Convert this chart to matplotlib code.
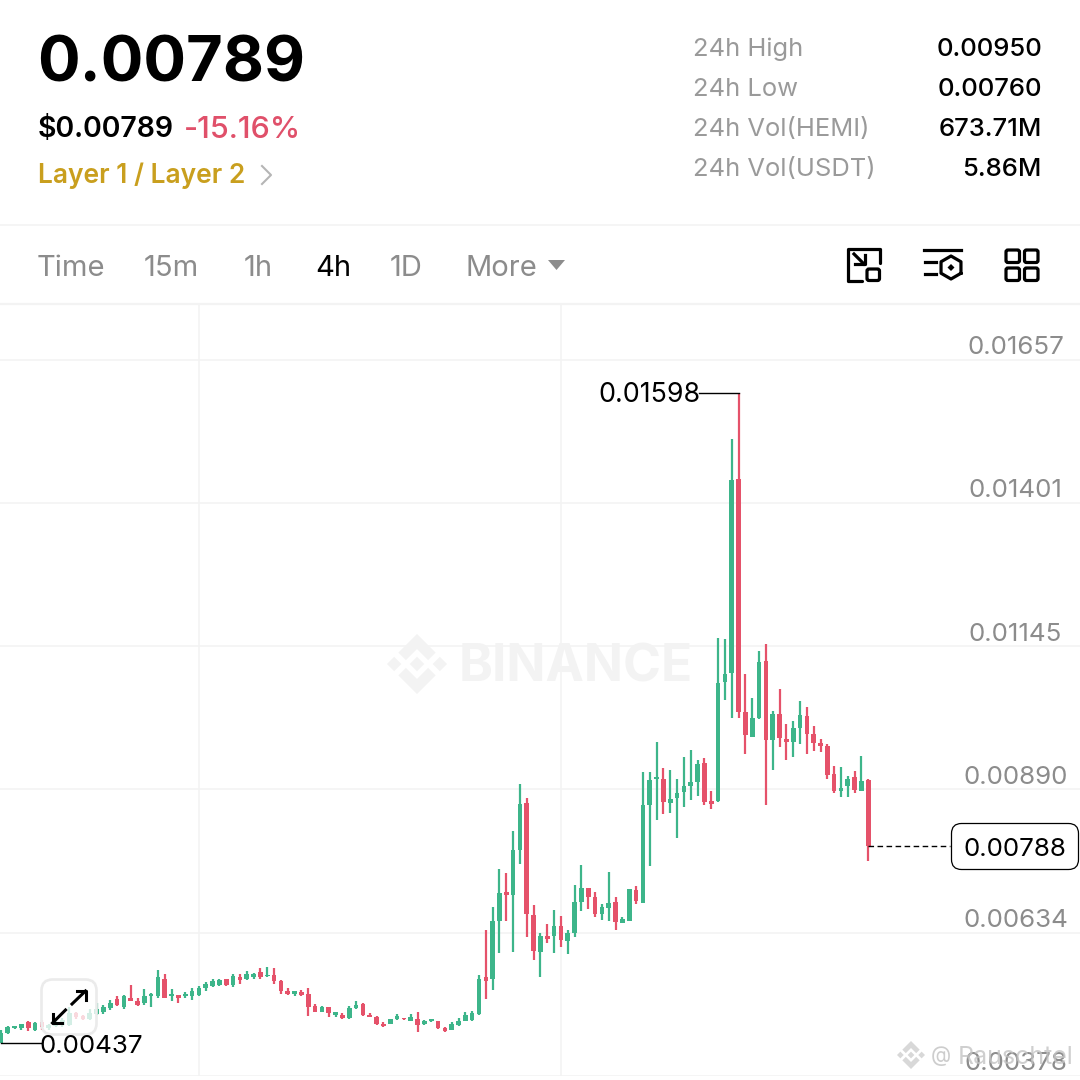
import numpy as np
import matplotlib
matplotlib.use("Agg")
import matplotlib.pyplot as plt
from matplotlib.patches import FancyBboxPatch, Polygon

plt.rcParams['font.family'] = ['Inter', 'Roboto', 'DejaVu Sans']

# prices in units of 0.00001 USDT, one 4h candle per entry
opens = [437, 455, 463, 463, 475, 461, 475, 463, 467, 469, 469, 490, 485, 479, 489, 493,
         499, 515, 501, 517, 512, 508, 520, 521, 552, 520, 522, 520, 521, 523, 535, 539,
         540, 551, 540, 555, 552, 554, 564, 556, 558, 548, 529, 524, 528, 524, 503, 493,
         501, 487, 487, 481, 499, 506, 487, 483, 471, 471, 479, 482, 477, 480, 470, 476,
         476, 464, 461, 469, 477, 478, 488, 554, 551, 655, 706, 701, 782, 865, 665, 600,
         628, 628, 646, 619, 633, 689, 713, 698, 668, 678, 688, 652, 655, 710, 687, 862,
         908, 908, 865, 874, 885, 896, 903, 936, 869, 869, 1082, 1098, 1443, 1027, 984, 1017,
         1118, 977, 1024, 980, 975, 999, 1020, 988, 972, 967, 917, 887, 895, 911, 887, 906]
highs = [461, 467, 468, 471, 476, 475, 478, 471, 478, 481, 501, 492, 487, 498, 508, 505,
         514, 520, 523, 540, 518, 533, 527, 568, 560, 533, 523, 528, 535, 539, 546, 552,
         552, 552, 560, 560, 565, 562, 570, 573, 571, 549, 535, 529, 532, 535, 506, 503,
         502, 493, 490, 503, 511, 508, 490, 485, 475, 480, 488, 482, 489, 492, 478, 480,
         477, 466, 474, 481, 493, 494, 558, 639, 679, 748, 741, 816, 899, 874, 683, 633,
         649, 674, 664, 639, 719, 754, 713, 706, 685, 742, 697, 662, 712, 717, 921, 920,
         974, 927, 924, 909, 947, 960, 942, 945, 887, 1160, 1158, 1515, 1598, 1096, 1052, 1137,
         1150, 1030, 1069, 1006, 1011, 1048, 1036, 1002, 980, 970, 931, 930, 913, 922, 949, 908]
lows = [437, 453, 462, 461, 459, 459, 460, 461, 465, 466, 467, 480, 478, 478, 487, 488,
        496, 503, 497, 511, 503, 505, 502, 518, 517, 512, 509, 517, 514, 520, 530, 536,
        538, 539, 536, 543, 549, 551, 551, 554, 543, 524, 523, 521, 521, 485, 493, 492,
        484, 484, 480, 480, 498, 486, 483, 469, 465, 470, 478, 478, 476, 457, 469, 474,
        462, 456, 460, 468, 476, 477, 487, 515, 531, 597, 655, 599, 756, 627, 585, 555,
        615, 597, 608, 595, 627, 672, 677, 662, 657, 655, 639, 652, 654, 685, 686, 753,
        835, 845, 848, 802, 858, 870, 878, 861, 854, 868, 1049, 1017, 1017, 953, 983, 1015,
        861, 924, 965, 943, 948, 970, 952, 959, 956, 909, 883, 876, 876, 883, 886, 761]
closes = [454, 465, 467, 470, 463, 472, 466, 469, 475, 478, 490, 483, 480, 490, 497, 501,
          509, 505, 520, 512, 505, 521, 524, 554, 518, 524, 518, 524, 529, 535, 542, 548,
          549, 540, 557, 549, 560, 560, 554, 558, 548, 529, 524, 529, 522, 501, 493, 502,
          490, 492, 481, 499, 505, 487, 483, 471, 467, 479, 485, 479, 483, 469, 476, 479,
          463, 458, 470, 477, 487, 491, 552, 548, 654, 705, 701, 782, 864, 667, 601, 628,
          623, 646, 620, 634, 689, 713, 698, 668, 679, 687, 653, 658, 712, 690, 861, 906,
          911, 867, 872, 883, 896, 902, 935, 868, 864, 1080, 1096, 1442, 1027, 986, 1017, 1117,
          977, 1025, 981, 975, 999, 1022, 989, 972, 968, 915, 887, 893, 909, 889, 905, 788]

price_ticks = [1657, 1401, 1145, 890, 634, 378]
price_labels = ['0.01657', '0.01401', '0.01145', '0.00890', '0.00634', '0.00378']
time_ticks = [29, 82]

stat_names = ['24h High', '24h Low', '24h Vol(HEMI)', '24h Vol(USDT)']
stat_values = ['0.00950', '0.00760', '673.71M', '5.86M']
tab_names = ['Time', '15m', '1h', '4h', '1D', 'More']
tab_x = [37, 144, 244, 315, 390, 466]

GREEN = '#3DB58A'
RED = '#E5526A'
GRID = '#F3F3F3'
GREY = '#8C8C8C'

opens, highs, lows, closes = [np.array(a) for a in (opens, highs, lows, closes)]
idx = np.arange(len(opens))
colors = np.where(closes >= opens, GREEN, RED)

fig = plt.figure(figsize=(10.8, 10.8), dpi=100, facecolor='white')

# chart area: y pixels 304..1076, one candle every 6.83 px starting at x=0.9
ax = fig.add_axes([0, 4 / 1080, 1, 772 / 1080])
ax.set_xlim(-0.9 / 6.83, 1079.1 / 6.83)
ax.set_ylim(378, 378 + 772 * 1.7852)
ax.set_xticks(time_ticks)
ax.set_yticks(price_ticks)
ax.grid(True, color=GRID, linewidth=1.1)
ax.set_axisbelow(True)
ax.tick_params(length=0, labelbottom=False, labelleft=False)
for s in ax.spines.values():
    s.set_visible(False)

# pixel overlay for the app chrome
ui = fig.add_axes([0, 0, 1, 1], zorder=3)
ui.set_xlim(0, 1080)
ui.set_ylim(1080, 0)
ui.axis('off')
ui.patch.set_alpha(0)


def logo(cx, cy, r, color, target, zorder=1):
    d = 0.24
    for dx, dy in [(0, 0), (-0.76, 0), (0.76, 0)]:
        pts = [(dx, dy - d), (dx + d, dy), (dx, dy + d), (dx - d, dy)]
        target.add_patch(Polygon([(cx + r * a, cy + r * b) for a, b in pts], color=color, lw=0, zorder=zorder))
    chevron = [(0, -1), (0.62, -0.38), (0.37, -0.13), (0, -0.5), (-0.37, -0.13), (-0.62, -0.38)]
    for sign in (1, -1):
        target.add_patch(Polygon([(cx + r * a, cy + sign * r * b) for a, b in chevron],
                                 color=color, lw=0, zorder=zorder))


# watermark sits under the candles
bg = fig.add_axes([0, 0, 1, 1], zorder=0.5)
bg.set_xlim(0, 1080)
bg.set_ylim(1080, 0)
bg.axis('off')
bg.patch.set_alpha(0)
ax.set_zorder(1)
ax.patch.set_alpha(0)
logo(417, 664, 30, '#F3F3F3', bg)
bg.text(576, 668, 'BINANCE', fontsize=37, fontweight='bold', color='#F3F3F3', ha='center', va='center')

# candles
ax.vlines(idx, lows, highs, colors=colors, linewidth=1.6, zorder=2)
ax.bar(idx, np.abs(closes - opens), bottom=np.minimum(opens, closes), width=0.68,
       color=colors, linewidth=0, zorder=3)

# header
ui.plot([0, 1080], [225, 225], color=GRID, lw=1.1)
ui.plot([0, 1080], [304, 304], color=GRID, lw=1.6)
ui.text(37, 65, '0.00789', fontsize=45.5, fontweight='bold', color='black', va='center')
ui.text(38, 129.5, '$0.00789', fontsize=20.5, fontweight='semibold', color='black', va='center')
ui.text(184, 129.5, '-15.16%', fontsize=22, fontweight='medium', color='#E0506A', va='center')
ui.text(38, 176, 'Layer 1 / Layer 2', fontsize=19, fontweight='semibold', color='#C99F1E', va='center')
ui.plot([262, 271, 262], [166, 175, 184], color='#B5B5B5', lw=1.5)
for k, (name, val) in enumerate(zip(stat_names, stat_values)):
    y = 49.5 + 40 * k
    ui.text(693, y, name, fontsize=18.4, color='#9A9A9A', va='center')
    ui.text(1042, y, val, fontsize=18.5, fontweight='medium', color='black', ha='right', va='center')

# tabs
for name, x in zip(tab_names, tab_x):
    ui.text(x, 268, name, fontsize=21, color='black' if name == '4h' else GREY, va='center')
ui.add_patch(Polygon([(548, 260), (565, 260), (556.5, 270)], color=GREY, lw=0))

# toolbar icons
LW = 2.3
ui.plot([880, 880, 848, 848, 862], [263, 248.5, 248.5, 280.5, 280.5], color='k', lw=LW, solid_capstyle='round')
ui.add_patch(FancyBboxPatch((867, 269), 12.5, 11.5, boxstyle='round,pad=0,rounding_size=2', fc='none', ec='k', lw=LW))
ui.plot([854, 864], [254, 264], color='k', lw=LW)
ui.plot([854.5, 864.5, 864.5], [264, 264, 255], color='k', lw=LW)
ui.plot([924, 961], [250, 250], color='k', lw=LW)
ui.plot([925, 936], [262, 262], color='k', lw=LW)
ui.plot([925, 936], [274, 274], color='k', lw=LW)
ang = np.deg2rad(np.arange(30, 391, 60))
ui.plot(951 + 11.5 * np.cos(ang), 267.5 + 11.5 * np.sin(ang), color='k', lw=LW)
ui.add_patch(Polygon([(951, 264), (954.5, 267.5), (951, 271), (947.5, 267.5)], color='k', lw=0))
for x0 in (1006, 1024.5):
    for y0 in (250, 268):
        ui.add_patch(FancyBboxPatch((x0, y0), 13.5, 12.5, boxstyle='round,pad=0,rounding_size=2',
                                    fc='none', ec='k', lw=LW))

# expand button over the candles
ui.add_patch(FancyBboxPatch((41.5, 979.5), 55, 55, boxstyle='round,pad=0,rounding_size=11',
                            fc=(1, 1, 1, 0.78), ec='#EBEBEB', lw=1.9))
ui.plot([72, 85.5], [1004, 991], color='k', lw=2.2)
ui.plot([76.5, 85.5, 85.5], [991, 991, 1000], color='k', lw=2.2)
ui.plot([65.5, 52.5], [1010, 1023], color='k', lw=2.2)
ui.plot([52.5, 52.5, 61.5], [1014, 1023, 1023], color='k', lw=2.2)

# price axis labels
to_y = lambda p: 1076 - (p - 378) / 1.7852
for p, lab in zip(price_ticks, price_labels):
    ui.text(1015.5, to_y(p) - 12, lab, fontsize=18.7, color=GREY, ha='center', va='center')

# high / low / last markers, taken from the data
hi = int(np.argmax(highs))
lo = int(np.argmin(lows))
ax.plot([hi - 5.8, hi], [highs[hi], highs[hi]], color='k', lw=1, zorder=4)
ui.text(701, to_y(highs[hi]) + 2, f'{highs[hi] / 1e5:.5f}', fontsize=19.3, color='k', ha='right', va='center')
ax.plot([lo, lo + 5.9], [lows[lo], lows[lo]], color='k', lw=1, zorder=4)
ui.text(39.5, to_y(lows[lo]) + 4, f'{lows[lo] / 1e5:.5f}', fontsize=18.7, color='k', va='center')
ax.plot([idx[-1], idx[-1] + 11.9], [closes[-1], closes[-1]], color='k', lw=1, ls=(0, (4, 2.5)), zorder=4)
ui.add_patch(FancyBboxPatch((951.5, 823.5), 127, 46, boxstyle='round,pad=0,rounding_size=10', fc='white', ec='k', lw=0.9))
ui.text(1015, to_y(closes[-1]) + 3.5, f'{closes[-1] / 1e5:.5f}', fontsize=18.7, color='k', ha='center', va='center')

# post watermark
logo(911, 1055, 14, '#D8D8D8', ui, zorder=5)
ui.text(931, 1056, '@', fontsize=15, color='#C8C8C8', va='center', alpha=0.9, zorder=5)
ui.text(958, 1058, 'Rauschtel', fontsize=18, color='#C4C4C4', va='center', alpha=0.8, zorder=5)

fig.savefig('out.png', dpi=100)
